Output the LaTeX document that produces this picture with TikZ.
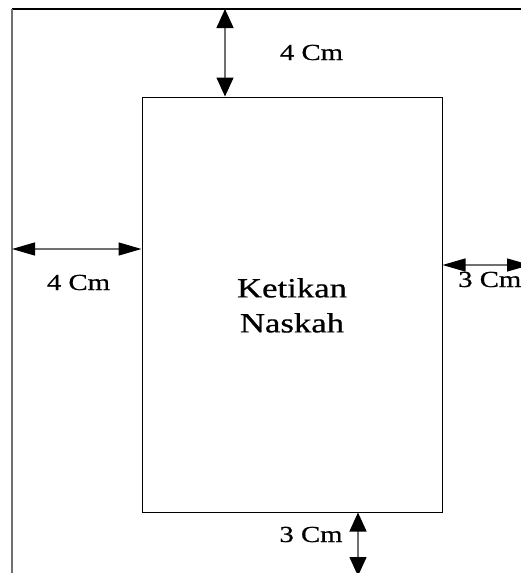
\documentclass[tikz,border=0pt]{standalone}
\usepackage{fontspec}
\setmainfont{Liberation Serif}
\newfontfamily\lblfont[FakeStretch=1.25,FakeBold=0.6]{Liberation Serif}
\usetikzlibrary{arrows.meta}
\definecolor{shaft}{HTML}{707070}
\tikzset{
  page/.style={line width=1.1pt},
  box/.style={draw=black, line width=1pt, minimum width=300pt, minimum height=415pt, inner sep=0pt},
  vdim/.style={draw=shaft, line width=1.3pt, {Triangle[length=19pt,width=17pt,color=black]}-{Triangle[length=19pt,width=17pt,color=black]}},
  hdim/.style={draw=shaft, line width=1.3pt, {Triangle[length=23pt,width=13pt,color=black]}-{Triangle[length=23pt,width=13pt,color=black]}},
  lbl/.style={inner sep=0pt, anchor=base, font=\lblfont\fontsize{23}{27}\selectfont},
  body/.style={inner sep=0pt, align=center, font=\lblfont\fontsize{27.8}{35}\selectfont}
}
\begin{document}
\begin{tikzpicture}[x=1pt, y=-1pt]
\useasboundingbox (0,0) rectangle (521,573);
\clip (0,0) rectangle (521,573);
% page edges
\coordinate (pgtl) at (12,9);
\coordinate (pgtr) at (530,9);
\coordinate (pgbl) at (12,580);
\draw[page, draw=black] (pgtl) -- (pgtr);
\draw[page, draw=shaft] (pgtl) -- (pgbl);
% typing area
\node[box] (area) at (292,304.5) {};
\node[body] (txt) at (292,305.4) {Ketikan\\Naskah};
% dimension end points
\coordinate (topend) at (225,9);
\coordinate (leftend) at (12,249);
\coordinate (rightend) at (530,265);
\coordinate (botend) at (358,576);
\draw[vdim] (topend) -- (topend |- area.north);
\draw[hdim] (leftend) -- (leftend -| area.west);
\draw[hdim] (rightend -| area.east) -- (rightend);
\draw[vdim] (botend |- area.south) -- (botend);
% labels
\node[lbl] (ltop) at (311.5,60) {4 Cm};
\node[lbl] (lleft) at (78.5,290) {4 Cm};
\node[lbl, anchor=base west] (lright) at (458,287) {3 Cm};
\node[lbl] (lbot) at (311,542) {3 Cm};
\end{tikzpicture}
\end{document}
